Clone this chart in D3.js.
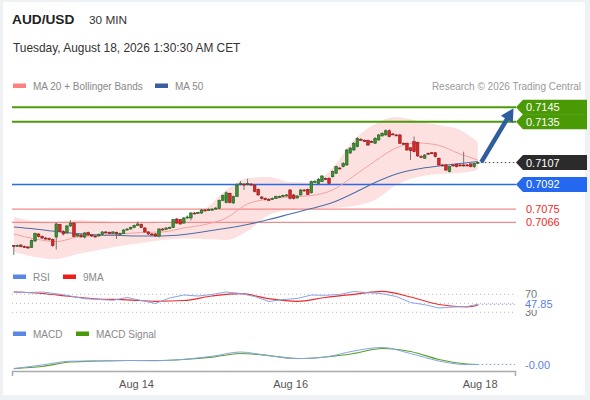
<!DOCTYPE html>
<meta charset="utf-8">
<script src="https://d3js.org/d3.v7.min.js"></script>
<style>
body { margin: 0; background: #eef2f5; }
svg { display: block; font-family: "Liberation Sans", Arial, sans-serif; }
</style>
<body>
<script>

// ---- data ----
var symbol = "AUD/USD", timeframe = "30 MIN";
var stamp = "Tuesday, August 18, 2026 1:30:30 AM CET";

var candleOpen = [
  .70501,.70497,.70504,.70494,.70491,.70487,.70532,.70580,.70563,.70552,.70549,.70542,.70559,.70645,.70597,.70587,.70635,.70655,.70566,.70573,
  .70559,.70590,.70573,.70566,.70566,.70576,.70594,.70590,.70583,.70590,.70580,.70583,.70607,.70614,.70624,.70638,.70645,.70621,.70594,.70580,
  .70580,.70566,.70614,.70611,.70621,.70624,.70683,.70679,.70655,.70690,.70690,.70724,.70721,.70724,.70745,.70741,.70748,.70752,.70755,.70810,
  .70796,.70858,.70793,.70837,.70920,.70923,.70923,.70923,.70916,.70886,.70834,.70824,.70817,.70817,.70824,.70834,.70841,.70844,.70882,.70848,
  .70827,.70848,.70882,.70886,.70863,.70939,.70928,.70939,.70961,.70962,.70973,.70997,.71033,.71042,.71054,.71136,.71157,.71180,.71230,.71222,
  .71221,.71215,.71203,.71225,.71253,.71260,.71289,.71267,.71260,.71260,.71203,.71203,.71172,.71214,.71207,.71112,.71100,.71134,.71138,.71138,
  .71100,.71054,.71054,.71008,.71054,.71059,.71054,.71054,.71054,.71061,.71042,.71069];
var candleHigh = [
  .70504,.70508,.70511,.70501,.70497,.70542,.70590,.70587,.70570,.70560,.70556,.70549,.70659,.70649,.70607,.70642,.70676,.70662,.70587,.70580,
  .70594,.70597,.70580,.70573,.70583,.70600,.70600,.70597,.70600,.70597,.70590,.70614,.70621,.70631,.70645,.70666,.70652,.70628,.70600,.70587,
  .70587,.70621,.70621,.70628,.70631,.70683,.70690,.70683,.70697,.70707,.70731,.70731,.70734,.70752,.70752,.70755,.70758,.70765,.70817,.70851,
  .70872,.70865,.70844,.70927,.70944,.70930,.70958,.70930,.70923,.70892,.70841,.70831,.70827,.70831,.70844,.70844,.70851,.70855,.70889,.70855,
  .70848,.70889,.70889,.70892,.70947,.70951,.70965,.70985,.70968,.70971,.71016,.71050,.71040,.71074,.71164,.71177,.71212,.71246,.71239,.71229,
  .71229,.71222,.71246,.71267,.71277,.71298,.71298,.71274,.71267,.71267,.71208,.71208,.71174,.71249,.71215,.71122,.71129,.71140,.71143,.71143,
  .71105,.71061,.71061,.71050,.71061,.71064,.71061,.71145,.71061,.71067,.71071,.71078];
var candleLow = [
  .70436,.70491,.70487,.70484,.70477,.70484,.70525,.70556,.70546,.70542,.70535,.70491,.70473,.70594,.70570,.70580,.70628,.70556,.70559,.70552,
  .70549,.70566,.70559,.70556,.70563,.70573,.70583,.70580,.70580,.70546,.70573,.70580,.70604,.70611,.70621,.70635,.70621,.70587,.70573,.70566,
  .70559,.70556,.70604,.70607,.70614,.70621,.70649,.70642,.70649,.70683,.70673,.70714,.70717,.70717,.70734,.70738,.70741,.70745,.70752,.70806,
  .70789,.70789,.70786,.70834,.70913,.70882,.70913,.70910,.70865,.70841,.70817,.70810,.70806,.70813,.70820,.70827,.70834,.70837,.70817,.70817,
  .70824,.70844,.70872,.70848,.70858,.70934,.70923,.70937,.70951,.70923,.70968,.70992,.71023,.71037,.71047,.71129,.71150,.71174,.71222,.71212,
  .71184,.71208,.71198,.71222,.71250,.71256,.71243,.71260,.71253,.71198,.71191,.71150,.71088,.71140,.71109,.71102,.71095,.71126,.71129,.71105,
  .71047,.71044,.71013,.71002,.71044,.71037,.71044,.71042,.71044,.71037,.71033,.71061];
var candleClose = [
  .70494,.70501,.70494,.70492,.70487,.70535,.70583,.70563,.70552,.70549,.70542,.70501,.70649,.70597,.70580,.70635,.70655,.70563,.70576,.70561,
  .70587,.70573,.70570,.70564,.70576,.70594,.70590,.70583,.70594,.70580,.70583,.70607,.70614,.70624,.70638,.70649,.70624,.70594,.70580,.70576,
  .70566,.70614,.70611,.70621,.70624,.70679,.70655,.70649,.70690,.70697,.70724,.70721,.70728,.70745,.70741,.70748,.70750,.70758,.70810,.70844,
  .70863,.70796,.70837,.70916,.70927,.70920,.70927,.70916,.70872,.70848,.70825,.70820,.70813,.70824,.70836,.70837,.70844,.70848,.70825,.70824,
  .70841,.70882,.70879,.70851,.70939,.70940,.70956,.70978,.70956,.70928,.71008,.71042,.71031,.71065,.71157,.71170,.71203,.71237,.71228,.71221,
  .71191,.71214,.71237,.71260,.71272,.71289,.71248,.71265,.71256,.71203,.71199,.71157,.71152,.71145,.71116,.71111,.71122,.71131,.71136,.71111,
  .71054,.71052,.71019,.71042,.71052,.71042,.71052,.71052,.71052,.71042,.71065,.71071];

// moving averages and Bollinger bands, read every 6 bars
var maIdx = [0,6,12,18,24,30,36,42,48,54,60,66,72,78,84,90,96,102,108,114,120,126,131];
var ma20 = [.70580,.70546,.70528,.70559,.70570,.70580,.70590,.70594,.70621,.70645,.70690,.70786,.70820,.70834,.70844,.70882,.70978,.71081,.71171,.71205,.71188,.71129,.71088];
var ma50 = [.70628,.70614,.70597,.70583,.70573,.70570,.70566,.70566,.70576,.70597,.70619,.70645,.70679,.70717,.70755,.70796,.70861,.70934,.70992,.71026,.71047,.71064,.71078];
var bbUpper = [.70697,.70669,.70662,.70676,.70669,.70662,.70662,.70649,.70683,.70752,.70882,.70964,.70971,.70937,.70934,.71033,.71225,.71335,.71383,.71356,.71329,.71294,.71212];
var bbLower = [.70456,.70422,.70408,.70443,.70470,.70497,.70518,.70539,.70549,.70545,.70539,.70600,.70710,.70745,.70752,.70758,.70772,.70813,.70916,.70971,.70992,.70999,.71019];

// key levels
var resistLevels = [0.7145, 0.7135];
var lastPrice = 0.7107;
var pivotLevel = 0.7092;
var supportLevels = [0.7075, 0.7066];

// RSI every 4 bars, its 9MA and MACD every 8 bars
var rsiIdx = [0,4,8,12,16,20,24,28,32,36,40,44,48,52,56,60,64,68,72,76,80,84,88,92,96,100,104,108,112,116,120,124,128,131];
var rsi = [75.1,74.0,75.1,71.3,66.2,60.2,58.4,56.7,62.9,56.2,49.6,61.8,68.4,66.2,69.6,75.1,71.8,65.1,54.0,58.4,
           60.7,68.4,67.8,69.6,76.2,73.6,71.3,65.1,51.8,46.9,39.6,41.8,42.9,47.85];
var slowIdx = [0,8,16,24,32,40,48,56,64,72,80,88,96,104,112,120,128,131];
var rsiMa9 = [75.1,71.8,65.1,59.6,57.8,54.4,56.2,66.2,71.3,60.2,54.4,62.9,70.0,76.7,64.0,47.3,41.8,45.6];
var macd = [-0.000215,-0.000035,0.000155,0.000165,0.00019,0.000175,0.00025,0.0004,0.000615,0.000425,0.000285,0.000365,0.000665,0.00084,0.00054,0.000165,-0.000015,-0.00001];
var macdSignal = [-0.000215,-0.00011,0.000115,0.000165,0.00019,0.00019,0.00024,0.000355,0.00054,0.00044,0.00029,0.000365,0.00054,0.00079,0.00064,0.00024,0.000015,-0.00001];
var rsiLevels = [70, 50, 30];

var tickIdx = [35, 78.5, 132];
var tickLabels = ["Aug 14", "Aug 16", "Aug 18"];

// ---- setup ----
var width = 590, height = 400;

var svg = d3.select("body").append("svg")
  .attr("width", width)
  .attr("height", height);

svg.append("rect")
  .attr("x", 3).attr("y", 2)
  .attr("width", 582).attr("height", 393)
  .attr("fill", "#fff");

var xScale = d3.scaleLinear().domain([0, 142]).range([12, 515]);
var cx = function(i) { return xScale(i + 0.5); };
var yScale = d3.scaleLinear().domain([0.7040, 0.7155]).range([260.2, 92.7]);
var yRsi = d3.scaleLinear().domain([30, 70]).range([312.3, 294.3]);
var yMacd = d3.scaleLinear().domain([0, 0.001]).range([364.3, 344.3]);

// header
svg.append("text").attr("x", 12).attr("y", 24)
  .style("font-size", "13.7px").style("font-weight", "bold").attr("fill", "#222")
  .text(symbol);
svg.append("text").attr("x", 89).attr("y", 24)
  .style("font-size", "11.8px").attr("fill", "#333")
  .text(timeframe);
svg.append("text").attr("x", 13).attr("y", 52)
  .style("font-size", "11.9px").attr("fill", "#333")
  .text(stamp);

function legend(x, yy, color, label) {
  svg.append("rect").attr("x", x).attr("y", yy - 2.5).attr("width", 13).attr("height", 4.5).attr("fill", color);
  svg.append("text").attr("x", x + 20).attr("y", yy + 3.5)
    .style("font-size", "10px").attr("fill", "#888").text(label);
}
legend(13, 86, "#ff8080", "MA 20 + Bollinger Bands");
legend(155, 86, "#3a5e9e", "MA 50");
svg.append("text").attr("x", 581).attr("y", 90).attr("text-anchor", "end")
  .style("font-size", "10px").attr("fill", "#9a9a9a")
  .text("Research \u00a9 2026 Trading Central");

// ---- main panel ----
svg.append("clipPath").attr("id", "mainClip")
  .append("rect").attr("x", 12).attr("y", 94).attr("width", 504).attr("height", 168);
var main = svg.append("g").attr("clip-path", "url(#mainClip)");

var band = d3.area()
  .x(function(d, k) { return cx(maIdx[k]); })
  .y0(function(d, k) { return yScale(bbLower[k]); })
  .y1(function(d) { return yScale(d); })
  .curve(d3.curveMonotoneX);
main.append("path").datum(bbUpper).attr("d", band).attr("fill", "#fde1e1");

// level lines
main.selectAll(".sup").data(supportLevels).enter().append("line")
  .attr("x1", 12).attr("x2", 516)
  .attr("y1", function(d) { return yScale(d); }).attr("y2", function(d) { return yScale(d); })
  .attr("stroke", "#f38a8a").attr("stroke-width", 1.3);
main.selectAll(".res").data(resistLevels).enter().append("line")
  .attr("x1", 12).attr("x2", 516)
  .attr("y1", function(d) { return yScale(d); }).attr("y2", function(d) { return yScale(d); })
  .attr("stroke", "#4c9a0a").attr("stroke-width", 2);
main.append("line")
  .attr("x1", 12).attr("x2", 516)
  .attr("y1", yScale(pivotLevel)).attr("y2", yScale(pivotLevel))
  .attr("stroke", "#2b6ae6").attr("stroke-width", 1.4);

var maLine = function(vals) {
  return d3.line()
    .x(function(d, k) { return cx(maIdx[k]); })
    .y(function(d) { return yScale(d); })
    .curve(d3.curveMonotoneX)(vals);
};
main.append("path").attr("d", maLine(ma20)).attr("fill", "none").attr("stroke", "#f4a3a3").attr("stroke-width", 1);
main.append("path").attr("d", maLine(ma50)).attr("fill", "none").attr("stroke", "#4a6ea8").attr("stroke-width", 1.1);

// candles
var candles = main.selectAll(".candle").data(candleClose).enter().append("g").attr("class", "candle");
candles.append("line")
  .attr("x1", function(d, i) { return cx(i); }).attr("x2", function(d, i) { return cx(i); })
  .attr("y1", function(d, i) { return yScale(candleHigh[i]); })
  .attr("y2", function(d, i) { return yScale(candleLow[i]); })
  .attr("stroke", "#777").attr("stroke-width", 1);
candles.append("rect")
  .attr("x", function(d, i) { return cx(i) - 1.3; })
  .attr("width", 2.6)
  .attr("y", function(d, i) { return yScale(Math.max(candleOpen[i], d)); })
  .attr("height", function(d, i) { return Math.max(1, Math.abs(yScale(candleOpen[i]) - yScale(d))); })
  .attr("fill", function(d, i) { return d >= candleOpen[i] ? "#3b8f34" : "#dc2626"; })
  .attr("stroke", function(d, i) { return d >= candleOpen[i] ? "#23601f" : "#8f1717"; })
  .attr("stroke-width", 0.6);

// last price dotted line
var lastX = cx(candleClose.length - 1);
svg.append("line")
  .attr("x1", lastX + 3).attr("x2", 516)
  .attr("y1", yScale(lastPrice)).attr("y2", yScale(lastPrice))
  .attr("stroke", "#444").attr("stroke-width", 1).attr("stroke-dasharray", "1.5,2.5");

// forecast arrow
var ax0 = lastX + 3.5, ay0 = yScale(lastPrice) - 0.5;
var ax1 = 513.5, ay1 = yScale(resistLevels[0]) + 1;
var adx = ax1 - ax0, ady = ay1 - ay0, alen = Math.hypot(adx, ady);
var ux = adx / alen, uy = ady / alen, hl = 13, hw = 7;
svg.append("line")
  .attr("x1", ax0).attr("y1", ay0)
  .attr("x2", ax1 - ux * hl * 0.8).attr("y2", ay1 - uy * hl * 0.8)
  .attr("stroke", "#2f5d9e").attr("stroke-width", 4.5);
svg.append("path")
  .attr("d", "M" + ax1 + "," + ay1 +
    "L" + (ax1 - ux * hl - uy * hw) + "," + (ay1 - uy * hl + ux * hw) +
    "L" + (ax1 - ux * hl + uy * hw) + "," + (ay1 - uy * hl - ux * hw) + "Z")
  .attr("fill", "#2f5d9e");

// price tags
function tag(value, fill, textColor) {
  var yc = yScale(value), x0 = 516, x1 = 587, h = 15, n = 7;
  svg.append("path")
    .attr("d", "M" + x0 + "," + yc + "L" + (x0 + n) + "," + (yc - h / 2) + "L" + x1 + "," + (yc - h / 2) +
      "L" + x1 + "," + (yc + h / 2) + "L" + (x0 + n) + "," + (yc + h / 2) + "Z")
    .attr("fill", fill);
  svg.append("text").attr("x", 526).attr("y", yc + 4)
    .style("font-size", "11px").attr("fill", textColor).text(value.toFixed(4));
}
resistLevels.forEach(function(v) { tag(v, "#4a9a06", "#fff"); });
tag(lastPrice, "#2b2b2b", "#fff");
tag(pivotLevel, "#2468f0", "#fff");
supportLevels.forEach(function(v) {
  svg.append("text").attr("x", 526).attr("y", yScale(v) + 4)
    .style("font-size", "11px").attr("fill", "#ee2b2b").text(v.toFixed(4));
});

// ---- RSI panel ----
legend(13, 277, "#5b86e5", "RSI");
legend(63, 277, "#ee1c1c", "9MA");

svg.selectAll(".rsiLvl").data(rsiLevels).enter().append("line")
  .attr("x1", 12).attr("x2", 515)
  .attr("y1", function(d) { return yRsi(d); }).attr("y2", function(d) { return yRsi(d); })
  .attr("stroke", "#bbb").attr("stroke-width", 1).attr("stroke-dasharray", "1,3");

svg.append("path")
  .attr("d", d3.line().x(function(d, k) { return cx(slowIdx[k]); }).y(function(d) { return yRsi(d); })
    .curve(d3.curveMonotoneX)(rsiMa9))
  .attr("fill", "none").attr("stroke", "#ee2a2a").attr("stroke-width", 1.2);
svg.append("path")
  .attr("d", d3.line().x(function(d, k) { return cx(rsiIdx[k]); }).y(function(d) { return yRsi(d); })(rsi))
  .attr("fill", "none").attr("stroke", "#86a4e8").attr("stroke-width", 1);

var lastRsi = rsi[rsi.length - 1];
svg.append("line")
  .attr("x1", lastX).attr("x2", 515)
  .attr("y1", yRsi(lastRsi)).attr("y2", yRsi(lastRsi))
  .attr("stroke", "#86a4e8").attr("stroke-dasharray", "1.5,2.5");

svg.selectAll(".rsiTxt").data([70, 30]).enter().append("text")
  .attr("x", 525).attr("y", function(d) { return yRsi(d) + 4; })
  .style("font-size", "11px").attr("fill", "#777").text(function(d) { return d; });
svg.append("rect").attr("x", 523).attr("y", yRsi(lastRsi) - 6.5).attr("width", 32).attr("height", 12).attr("fill", "#fff");
svg.append("text").attr("x", 525).attr("y", yRsi(lastRsi) + 4)
  .style("font-size", "11px").attr("fill", "#5b7fe0").text(lastRsi.toFixed(2));

// ---- MACD panel ----
legend(13, 334, "#5b86e5", "MACD");
legend(76, 334, "#4a9a06", "MACD Signal");

svg.append("path")
  .attr("d", d3.line().x(function(d, k) { return cx(slowIdx[k]); }).y(function(d) { return yMacd(d); })
    .curve(d3.curveMonotoneX)(macdSignal))
  .attr("fill", "none").attr("stroke", "#5aa02a").attr("stroke-width", 1.2);
svg.append("path")
  .attr("d", d3.line().x(function(d, k) { return cx(slowIdx[k]); }).y(function(d) { return yMacd(d); })
    .curve(d3.curveMonotoneX)(macd))
  .attr("fill", "none").attr("stroke", "#86a4e8").attr("stroke-width", 1);

var lastMacd = macd[macd.length - 1];
svg.append("line")
  .attr("x1", lastX).attr("x2", 515)
  .attr("y1", yMacd(lastMacd)).attr("y2", yMacd(lastMacd))
  .attr("stroke", "#86a4e8").attr("stroke-dasharray", "1.5,2.5");
svg.append("text").attr("x", 525).attr("y", yMacd(lastMacd) + 4)
  .style("font-size", "11px").attr("fill", "#5b7fe0").text(lastMacd.toFixed(2));

// ---- time axis ----
var xAxis = d3.axisBottom(xScale)
  .tickValues(tickIdx)
  .tickFormat(function(d, i) { return tickLabels[i]; })
  .tickSizeInner(0).tickSizeOuter(5).tickPadding(9);

var xAxisGroup = svg.append("g")
  .attr("transform", "translate(0,371)")
  .call(xAxis);
xAxisGroup.select(".domain").attr("stroke", "#aaa").attr("stroke-width", 1.5);
xAxisGroup.selectAll("text").style("font-size", "11px").attr("fill", "#555")
  .style("font-family", "'Liberation Sans', Arial, sans-serif");

</script>
</body>
